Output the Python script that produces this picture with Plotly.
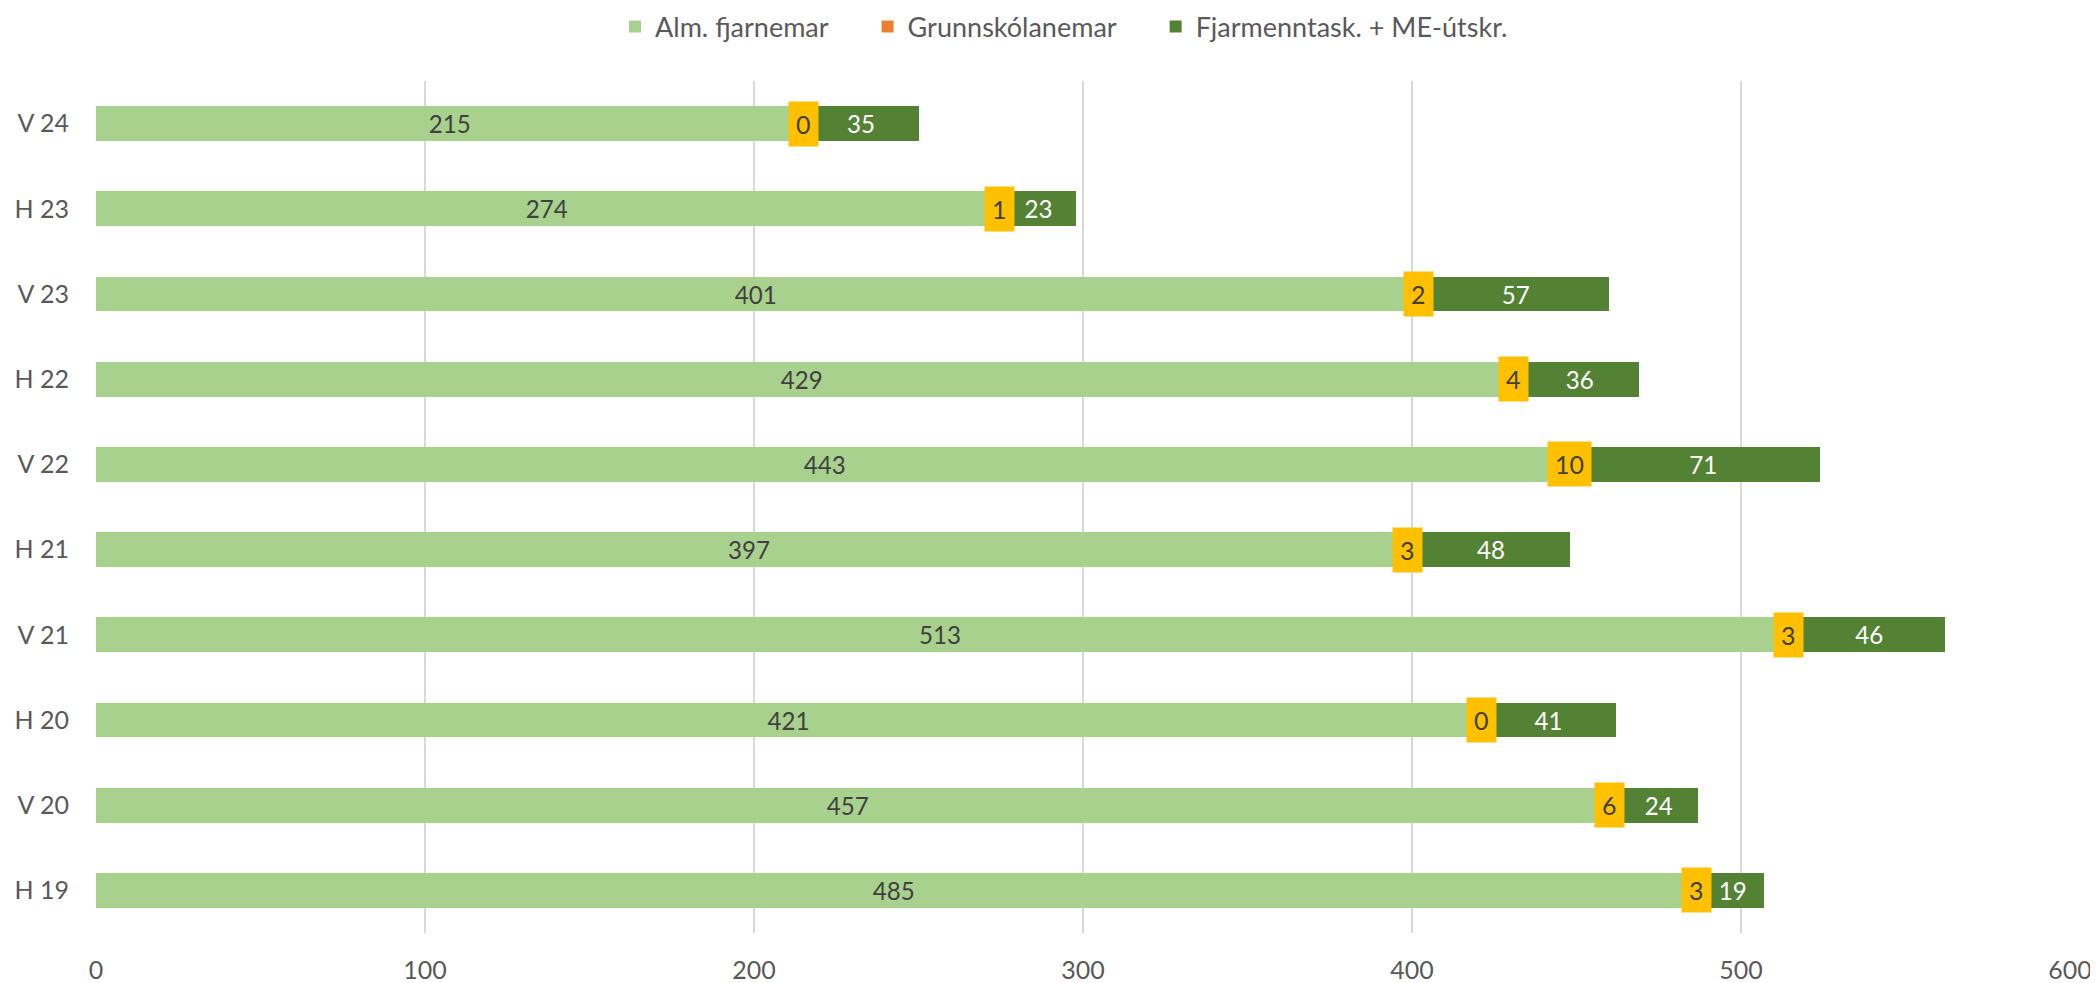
import plotly.graph_objects as go

categories = ["H 19", "V 20", "H 20", "V 21", "H 21", "V 22", "H 22", "V 23", "H 23", "V 24"]
alm = [485, 457, 421, 513, 397, 443, 429, 401, 274, 215]
grunn = [3, 6, 0, 3, 3, 10, 4, 2, 1, 0]
fjarm = [19, 24, 41, 46, 48, 71, 36, 57, 23, 35]
x_ticks = [0, 100, 200, 300, 400, 500, 600]
series_names = ["Alm. fjarnemar", "Grunnskólanemar", "Fjarmenntask. + ME-útskr."]

FONT = "Lato, 'Open Sans', sans-serif"
C_ALM = "#A9D18E"
C_GRUNN = "#ED7D31"
C_FJARM = "#548235"
FS = 25
PAD = "\u00a0" * 5

fig = go.Figure()
fig.add_trace(go.Bar(
    y=categories, x=alm, name=series_names[0] + PAD, orientation="h",
    marker=dict(color=C_ALM, line=dict(width=0)),
    text=[str(v) for v in alm], textposition="inside", insidetextanchor="middle",
    textangle=0, textfont=dict(color="#404040", size=FS, family=FONT),
))
fig.add_trace(go.Bar(
    y=categories, x=grunn, name=series_names[1] + PAD, orientation="h",
    marker=dict(color=C_GRUNN, line=dict(width=0)),
))
fig.add_trace(go.Bar(
    y=categories, x=fjarm, name=series_names[2], orientation="h",
    marker=dict(color=C_FJARM, line=dict(width=0)),
    text=[str(v) for v in fjarm], textposition="inside", insidetextanchor="middle",
    textangle=0, textfont=dict(color="white", size=FS, family=FONT),
))

# Yellow callout labels for the tiny Grunnskólanemar segments
for cat, a, g in zip(categories, alm, grunn):
    fig.add_annotation(
        x=a + g / 2, y=cat, xref="x", yref="y", text=str(g), showarrow=False,
        bgcolor="#FFC000", borderpad=7,
        font=dict(color="#404040", size=FS, family=FONT),
    )

fig.update_layout(
    width=2090, height=975,
    margin=dict(l=88, r=28, t=73, b=50),
    barmode="stack", bargap=0.59,
    plot_bgcolor="white", paper_bgcolor="white",
    font=dict(family=FONT, color="#595959", size=FS),
    legend=dict(
        orientation="h", x=0.4904, xanchor="center", y=0.9805, yanchor="middle",
        yref="container", font=dict(size=27, color="#595959"),
        traceorder="normal", itemwidth=30,
    ),
    xaxis=dict(
        range=[0, 600], tickvals=x_ticks, showgrid=True, gridcolor="#D9D9D9",
        gridwidth=2, zeroline=False, showline=False, automargin=False,
        tickfont=dict(size=FS, color="#595959"), ticklabelstandoff=20,
    ),
    yaxis=dict(
        categoryorder="array", categoryarray=categories, showgrid=False,
        zeroline=False, showline=False, ticks="", automargin=False,
        tickfont=dict(size=FS, color="#595959"), ticklabelstandoff=26,
    ),
)

fig.write_html("out.html")
